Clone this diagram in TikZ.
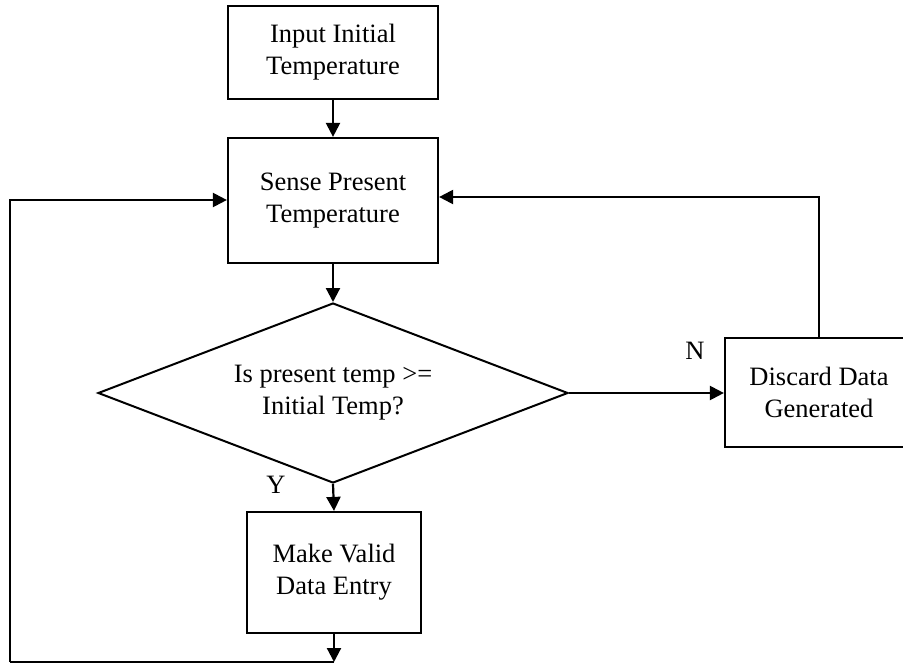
\documentclass[tikz,border=0pt]{standalone}
\usepackage{fontspec}
\setmainfont{Liberation Serif}
\usetikzlibrary{shapes.geometric,arrows.meta}

\begin{document}
\begin{tikzpicture}[x=1pt,y=-1pt,
  every node/.style={font=\fontsize{26.5}{32}\selectfont},
  box/.style={draw,line width=2.2pt,rectangle,align=center,inner sep=0pt},
  decision/.style={draw,line width=2pt,diamond,align=center,inner sep=0pt,aspect=2.61},
  flow/.style={line width=2.2pt,-{Triangle[length=14pt,width=14pt]}},
  wire/.style={line width=2.2pt}]
  \useasboundingbox (0,0) rectangle (903,664);

  % process boxes
  \node[box,minimum width=210pt,minimum height=93pt] (input) at (333,52.5) {Input Initial\\Temperature};
  \node[box,minimum width=210pt,minimum height=125pt] (sense) at (333,200.5) {Sense Present\\Temperature};
  \node[decision,minimum width=470pt,minimum height=180pt] (check) at (333,393) {Is present temp >=\\Initial Temp?};
  \node[box,minimum width=174pt,minimum height=121pt] (valid) at (334,572.5) {Make Valid\\Data Entry};
  \begin{scope}
    \clip (0,0) rectangle (903,664);
    \node[box,minimum width=188pt,minimum height=109pt] (discard) at (819,392.5) {Discard Data\\Generated};
  \end{scope}

  % branch labels
  \node (nlabel) at (695,351) {N};
  \node (ylabel) at (276,485) {Y};

  % loop corners
  \coordinate (bottom) at (334,662);
  \coordinate (lowleft) at (10,662);
  \coordinate (upleft) at (10,200);
  \coordinate (upright) at (819,197);

  % connectors
  \draw[flow] (input.south) -- (sense.north);
  \draw[flow] (sense.south) -- (check.north);
  \draw[flow] (check.south) -- (valid.north);
  \draw[flow] (check.east) -- (discard.west |- check.east);
  \draw[flow] (valid.south) -- (bottom);
  \draw[wire] (bottom) -- (lowleft);
  \draw[flow] (lowleft) -- (upleft) -- (upleft -| sense.west);
  \draw[flow] (discard.north) -- (upright) -- (upright -| sense.east);
\end{tikzpicture}
\end{document}
